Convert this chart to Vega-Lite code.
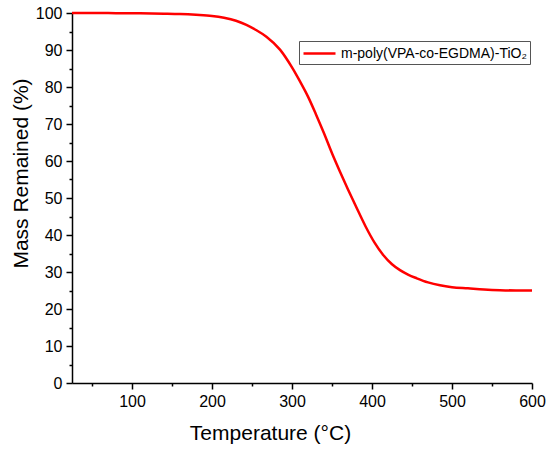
{
  "$schema": "https://vega.github.io/schema/vega-lite/v6.json",
  "description": "TGA curve of m-poly(VPA-co-EGDMA)-TiO2: mass remained versus temperature.",
  "width": 460,
  "height": 370,
  "autosize": {"type": "none"},
  "padding": {"left": 72, "top": 13, "right": 18, "bottom": 69},
  "config": {
    "view": {"stroke": null},
    "font": "Liberation Sans",
    "axis": {
      "grid": false,
      "domainColor": "black",
      "domainWidth": 1.5,
      "tickColor": "black",
      "tickWidth": 1.5,
      "labelColor": "black",
      "labelFont": "Liberation Sans",
      "labelFontSize": 16,
      "titleColor": "black",
      "titleFont": "Liberation Sans",
      "titleFontWeight": "normal",
      "titleFontSize": 21
    }
  },
  "data": {
    "values": [
      {"temperature": 25, "mass": 100},
      {"temperature": 50, "mass": 100},
      {"temperature": 80, "mass": 99.95},
      {"temperature": 110, "mass": 99.9},
      {"temperature": 140, "mass": 99.8},
      {"temperature": 160, "mass": 99.7},
      {"temperature": 180, "mass": 99.5},
      {"temperature": 200, "mass": 99.2},
      {"temperature": 215, "mass": 98.7},
      {"temperature": 230, "mass": 97.9},
      {"temperature": 243, "mass": 96.8},
      {"temperature": 255, "mass": 95.4},
      {"temperature": 268, "mass": 93.6},
      {"temperature": 285, "mass": 90.1},
      {"temperature": 300, "mass": 85.3},
      {"temperature": 310, "mass": 81.5},
      {"temperature": 320, "mass": 77.4},
      {"temperature": 330, "mass": 72.6},
      {"temperature": 340, "mass": 67.5},
      {"temperature": 350, "mass": 62.1},
      {"temperature": 360, "mass": 57.1},
      {"temperature": 370, "mass": 52.3},
      {"temperature": 380, "mass": 47.7},
      {"temperature": 392, "mass": 42.3},
      {"temperature": 403, "mass": 38.0},
      {"temperature": 414, "mass": 34.6},
      {"temperature": 425, "mass": 32.1},
      {"temperature": 435, "mass": 30.5},
      {"temperature": 445, "mass": 29.3},
      {"temperature": 456, "mass": 28.3},
      {"temperature": 470, "mass": 27.2},
      {"temperature": 485, "mass": 26.4},
      {"temperature": 500, "mass": 25.9},
      {"temperature": 520, "mass": 25.6},
      {"temperature": 540, "mass": 25.3},
      {"temperature": 560, "mass": 25.1},
      {"temperature": 580, "mass": 25.0},
      {"temperature": 600, "mass": 25.0}
    ]
  },
  "layer": [
    {
      "mark": {"type": "line", "strokeWidth": 2.5, "interpolate": "monotone"},
      "encoding": {
        "x": {
          "field": "temperature",
          "type": "quantitative",
          "scale": {"domain": [25, 600], "nice": false, "zero": false},
          "axis": {
            "orient": "bottom",
            "values": [100, 200, 300, 400, 500, 600],
            "tickSize": 6,
            "labelPadding": 4,
            "labelFlush": false,
            "title": "Temperature (°C)",
            "titleX": 198,
            "titleY": 56,
            "titleAlign": "center",
            "titleBaseline": "alphabetic"
          }
        },
        "y": {
          "field": "mass",
          "type": "quantitative",
          "scale": {"domain": [0, 100], "nice": false},
          "axis": {
            "orient": "left",
            "values": [0, 10, 20, 30, 40, 50, 60, 70, 80, 90, 100],
            "tickSize": 6,
            "labelPadding": 4,
            "labelFlush": false,
            "title": "Mass Remained (%)",
            "titleAngle": -90,
            "titleX": -45,
            "titleY": 160,
            "titleAlign": "center",
            "titleBaseline": "alphabetic"
          }
        },
        "color": {
          "datum": "m-poly(VPA-co-EGDMA)-TiO₂",
          "type": "nominal",
          "scale": {"range": ["#ff0000"]},
          "legend": {
            "orient": "none",
            "legendX": 227,
            "legendY": 28,
            "title": null,
            "symbolType": "M-1,0H3",
            "symbolSize": 256,
            "symbolStrokeWidth": 2.5,
            "labelFontSize": 14,
            "labelColor": "black",
            "labelFont": "Liberation Sans",
            "labelLimit": 400,
            "labelOffset": 20,
            "strokeColor": "#555555",
            "padding": 3
          }
        }
      }
    },
    {
      "mark": {"type": "line", "opacity": 0},
      "encoding": {
        "x": {
          "field": "temperature",
          "type": "quantitative",
          "axis": {
            "orient": "bottom",
            "values": [50, 150, 250, 350, 450, 550],
            "tickSize": 3,
            "labels": false,
            "domain": false,
            "title": null
          }
        },
        "y": {
          "field": "mass",
          "type": "quantitative",
          "axis": {
            "orient": "left",
            "values": [5, 15, 25, 35, 45, 55, 65, 75, 85, 95],
            "tickSize": 3,
            "labels": false,
            "domain": false,
            "title": null
          }
        }
      }
    }
  ],
  "resolve": {"axis": {"x": "independent", "y": "independent"}}
}
